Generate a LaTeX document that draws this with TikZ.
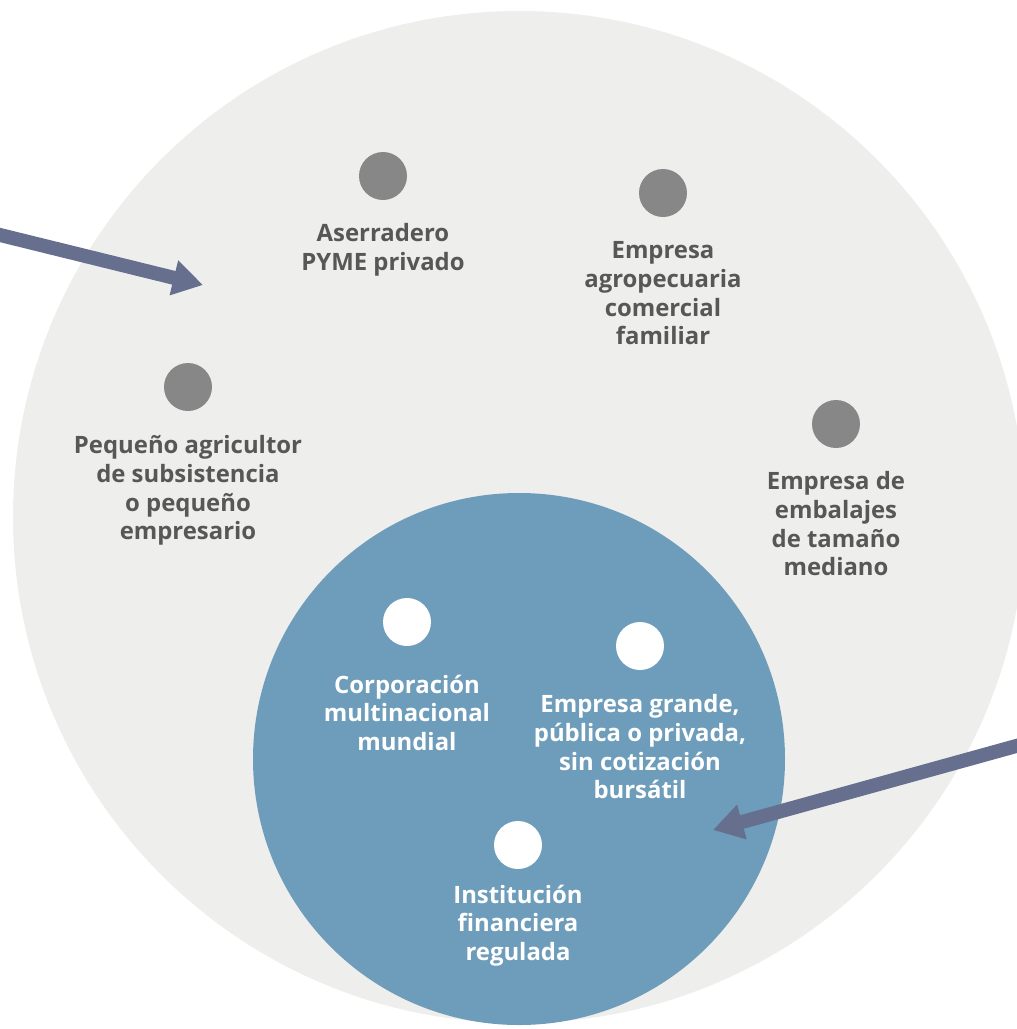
\documentclass[tikz,border=0pt]{standalone}
\usepackage{fontspec}
\setmainfont{Open Sans}
\usetikzlibrary{arrows.meta, positioning}
\definecolor{outergrey}{HTML}{EEEEEC}
\definecolor{innerblue}{HTML}{6E9DBB}
\definecolor{spotgrey}{HTML}{878787}
\definecolor{labelgrey}{HTML}{575757}
\definecolor{pointerblue}{HTML}{666F8E}
\tikzset{
  spot/.style={circle, fill=spotgrey, minimum size=0.96cm, inner sep=0},
  wspot/.style={spot, fill=white},
  lbl/.style={align=center, text=labelgrey, inner sep=0,
    font=\bfseries\fontsize{13.6}{16.3}\selectfont},
  wlbl/.style={lbl, text=white},
  pointer/.style={draw=pointerblue, line width=0.28cm,
    -{Triangle[length=0.6cm, width=0.68cm]}}
}

\begin{document}
\begin{tikzpicture}[x=0.02cm, y=-0.02cm]
        \useasboundingbox (0,0) rectangle (1017,1029);
        \clip (0,0) rectangle (1017,1029);
        \fill[outergrey] (519,517) circle [radius=506];
        \fill[innerblue] (519,759) circle [radius=266];

        \node[spot] (aserr) at (383,176) {};
        \node[spot] (agro) at (663,193) {};
        \node[spot] (peq) at (188,387) {};
        \node[spot] (embal) at (836,424) {};
        \node[wspot] (corp) at (407,622) {};
        \node[wspot] (grande) at (640,646) {};
        \node[wspot] (inst) at (518,845) {};

        \node[lbl, below=0.46cm of aserr] (aserrlbl) {Aserradero\\PYME privado};
        \node[lbl, below=0.48cm of agro] (agrolbl) {Empresa\\agropecuaria\\comercial\\familiar};
        \node[lbl, below=0.48cm of peq] (peqlbl) {Pequeño agricultor\\de subsistencia\\o pequeño\\empresario};
        \node[lbl, below=0.46cm of embal] (emballbl) {Empresa de\\embalajes\\de tamaño\\mediano};
        \node[wlbl, below=0.56cm of corp] (corplbl) {Corporación\\multinacional\\mundial};
        \node[wlbl, below=0.48cm of grande] (grandelbl) {Empresa grande,\\pública o privada,\\sin cotización\\bursátil};
        \node[wlbl, below=0.3cm of inst] (instlbl) {Institución\\financiera\\regulada};

        \coordinate (leftend) at (-10,232.5);
        \coordinate (lefttip) at (203,285);
        \coordinate (rightend) at (1027,743);
        \coordinate (righttip) at (713,830);
        \draw[pointer] (leftend) -- (lefttip);
        \draw[pointer] (rightend) -- (righttip);
\end{tikzpicture}
\end{document}
